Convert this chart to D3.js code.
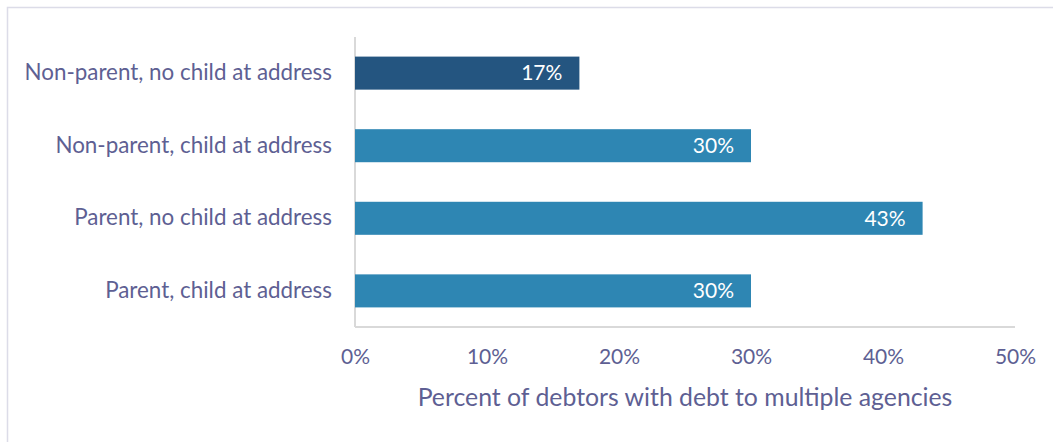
<!DOCTYPE html>
<html lang="en">
<head>
<meta charset="UTF-8">
<title>Debt to multiple agencies</title>
<style>
  body { margin: 0; background: #fff; }
  .axis .tick line { display: none; }
</style>
</head>
<body>
<svg width="1053" height="442"></svg>
<script src="https://d3js.org/d3.v7.min.js"></script>
<script>

var categories = ["Non-parent, no child at address", "Non-parent, child at address", "Parent, no child at address", "Parent, child at address"];
var values = [17, 30, 43, 30];
var barColors = ["#245580", "#2e86b3", "#2e86b3", "#2e86b3"];
var xTicks = [0, 10, 20, 30, 40, 50];
var xTitle = "Percent of debtors with debt to multiple agencies";

var textColor = "#5e5f93",
    fontFamily = "Lato, 'Open Sans', sans-serif";

var svg = d3.select("svg"),
    margin = {top: 37, right: 38, bottom: 115, left: 355},
    width = +svg.attr("width") - margin.left - margin.right,
    height = +svg.attr("height") - margin.top - margin.bottom;

// chart frame
svg.append("path")
    .attr("d", "M7.5,460V7.5H1060")
    .attr("fill", "none")
    .attr("stroke", "#dcdce8")
    .attr("stroke-width", 1.5);

var g = svg.append("g").attr("transform", "translate(" + margin.left + "," + margin.top + ")");

var x = d3.scaleLinear().domain([0, 50]).range([0, width]);

var y = d3.scaleBand()
    .domain(categories)
    .range([0, height])
    .paddingInner(0.545)
    .paddingOuter(0.27);

// vertical axis line
g.append("line")
    .attr("x1", 0).attr("x2", 0)
    .attr("y1", 0).attr("y2", height)
    .attr("stroke", "#d9d9d9")
    .attr("stroke-width", 2);

// bottom axis line
g.append("line")
    .attr("x1", 0).attr("x2", width)
    .attr("y1", height).attr("y2", height)
    .attr("stroke", "#d9d9d9")
    .attr("stroke-width", 2);

g.selectAll(".bar")
    .data(values)
    .enter().append("rect")
      .attr("class", "bar")
      .attr("x", x(0))
      .attr("y", function(d, i) { return y(categories[i]); })
      .attr("width", function(d) { return x(d) - x(0); })
      .attr("height", y.bandwidth())
      .attr("fill", function(d, i) { return barColors[i]; });

g.selectAll(".val")
    .data(values)
    .enter().append("text")
      .attr("class", "val")
      .attr("x", function(d) { return x(d) - 17; })
      .attr("y", function(d, i) { return y(categories[i]) + y.bandwidth() / 2; })
      .attr("dy", "0.35em")
      .attr("text-anchor", "end")
      .attr("fill", "#fff")
      .attr("font-family", fontFamily)
      .attr("font-size", 21)
      .text(function(d) { return d + "%"; });

// category labels
var yAxis = g.append("g")
    .attr("class", "axis")
    .call(d3.axisLeft(y).tickSize(0).tickPadding(23));
yAxis.select(".domain").remove();
yAxis.selectAll("text")
    .attr("fill", textColor)
    .attr("font-family", fontFamily)
    .attr("font-size", 22.4);

// tick labels
var xAxis = g.append("g")
    .attr("class", "axis")
    .attr("transform", "translate(0," + height + ")")
    .call(d3.axisBottom(x).tickValues(xTicks).tickSize(0).tickPadding(22).tickFormat(function(d) { return d + "%"; }));
xAxis.select(".domain").remove();
xAxis.selectAll("text")
    .attr("fill", textColor)
    .attr("font-family", fontFamily)
    .attr("font-size", 21);

g.append("text")
    .attr("x", width / 2)
    .attr("y", height + 70)
    .attr("dy", "0.35em")
    .attr("text-anchor", "middle")
    .attr("fill", textColor)
    .attr("font-family", fontFamily)
    .attr("font-size", 24.8)
    .text(xTitle);

</script>
</body>
</html>
